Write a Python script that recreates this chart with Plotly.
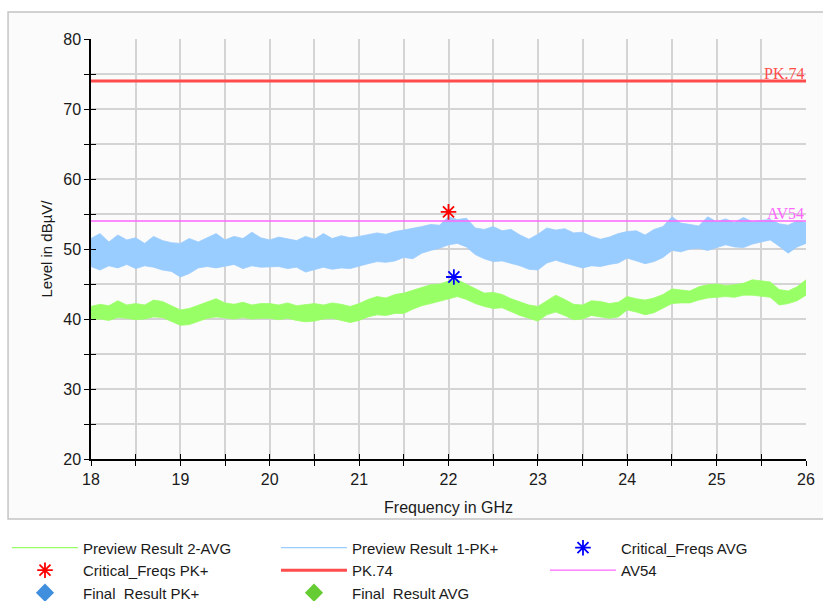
import plotly.graph_objects as go

# Frequency grid (GHz) for the measured envelopes
freq = [round(18.0 + 0.1 * i, 1) for i in range(81)]

# Preview Result 1-PK+ : upper / lower envelope of the sweep (dBµV)
pk_hi = [51.5, 52.2, 51.0, 52.0, 51.3, 51.6, 50.8, 51.8, 51.2, 50.9,
         50.8, 51.5, 51.0, 51.6, 52.2, 51.3, 51.8, 51.5, 52.4, 51.6,
         51.3, 51.7, 51.5, 51.2, 51.8, 51.4, 52.2, 51.5, 51.9, 51.6,
         51.8, 52.0, 52.3, 52.1, 52.5, 52.7, 52.9, 53.2, 53.5, 53.4,
         54.6, 54.2, 54.4, 53.0, 52.8, 53.2, 52.6, 52.8, 52.0, 51.4,
         52.1, 53.0, 52.7, 52.9, 52.3, 52.4, 51.8, 51.4, 51.7, 52.2,
         52.5, 52.6, 52.0, 52.8, 53.2, 54.6, 53.7, 53.5, 53.3, 54.6,
         53.9, 54.3, 53.8, 54.5, 53.9, 54.1, 54.2, 53.6, 53.4, 54.0,
         53.8]
pk_lo = [47.5, 47.0, 47.6, 47.3, 47.8, 47.2, 47.6, 47.4, 47.0, 46.8,
         46.0, 46.5, 47.3, 47.5, 47.3, 47.6, 47.8, 47.2, 47.6, 47.4,
         47.4, 47.5, 47.2, 47.4, 46.7, 47.0, 47.4, 47.1, 47.3, 47.2,
         47.6, 47.9, 48.2, 48.1, 48.3, 48.8, 48.6, 49.4, 49.8, 50.1,
         50.6, 50.8, 50.3, 49.2, 48.6, 48.2, 48.3, 48.0, 47.6, 47.1,
         47.0, 48.0, 48.4, 48.0, 47.7, 47.3, 47.6, 47.5, 47.8, 48.0,
         48.7, 48.3, 47.9, 48.2, 48.8, 49.8, 49.6, 50.0, 50.1, 49.8,
         50.2, 50.6, 50.3, 50.2, 50.7, 51.0, 51.3, 50.4, 49.4, 50.3,
         50.8]

# Preview Result 2-AVG : upper / lower envelope of the sweep (dBµV)
av_hi = [41.8, 42.1, 41.9, 42.6, 42.0, 42.2, 42.0, 42.7, 42.5, 41.9,
         41.3, 41.5, 42.0, 42.4, 42.9, 42.3, 42.1, 42.4, 42.0, 42.2,
         42.2, 42.0, 42.3, 41.9, 42.1, 42.2, 42.0, 42.3, 42.1, 41.8,
         42.2, 42.8, 43.2, 43.0, 43.5, 43.7, 44.1, 44.5, 44.9, 45.0,
         45.4, 45.6, 45.0, 44.3, 43.7, 43.8, 43.5, 42.9, 42.5, 42.0,
         41.8, 42.6, 43.4, 42.8, 42.1, 42.0, 42.6, 42.5, 42.2, 42.4,
         43.2, 42.9, 42.7, 43.0, 43.5, 44.3, 44.2, 44.0, 44.6, 44.9,
         45.0, 44.8, 44.9, 45.1, 45.6, 45.4, 45.3, 44.2, 44.0, 44.6,
         45.6]
av_lo = [39.9, 40.0, 39.8, 40.2, 40.1, 39.9, 40.0, 40.3, 40.2, 39.6,
         39.1, 39.2, 39.7, 40.1, 40.3, 40.1, 40.0, 40.2, 40.0, 40.1,
         40.1, 39.9, 40.1, 39.8, 39.6, 39.7, 40.0, 40.1, 39.8, 39.5,
         39.8, 40.3, 40.6, 40.5, 40.8, 40.8, 41.4, 41.9, 42.2, 42.5,
         42.9, 43.2, 42.8, 42.2, 41.8, 41.5, 41.6, 41.0, 40.5, 40.1,
         39.7, 40.6, 41.0, 40.5, 39.9, 40.0, 40.5, 40.3, 40.1, 40.3,
         41.3, 41.0, 40.6, 40.9, 41.6, 42.2, 42.3, 42.3, 42.7, 43.0,
         43.1, 43.2, 43.1, 43.4, 43.4, 43.3, 43.1, 42.0, 42.2, 42.6,
         43.4]

# Critical frequencies (GHz, dBµV)
crit_pk_f, crit_pk_v = [22.0], [55.3]
crit_av_f, crit_av_v = [22.06], [46.0]

# Limit lines
limit_pk = 74
limit_av = 54
f_span = [18, 26]

BLUE = "#99ccff"
GREEN = "#99ff66"
RED = "#ff4d4d"
MAGENTA = "#ff66ff"
FONT = "Liberation Sans, Arial, sans-serif"

fig = go.Figure()

# Measured bands
fig.add_trace(go.Scatter(x=freq, y=pk_lo, mode="lines", line=dict(width=0.8, color=BLUE),
                         showlegend=False, hoverinfo="skip"))
fig.add_trace(go.Scatter(x=freq, y=pk_hi, mode="lines", line=dict(width=0.8, color=BLUE),
                         fill="tonexty", fillcolor=BLUE, showlegend=False, hoverinfo="skip"))
fig.add_trace(go.Scatter(x=freq, y=av_lo, mode="lines", line=dict(width=0.8, color=GREEN),
                         showlegend=False, hoverinfo="skip"))
fig.add_trace(go.Scatter(x=freq, y=av_hi, mode="lines", line=dict(width=0.8, color=GREEN),
                         fill="tonexty", fillcolor=GREEN, showlegend=False, hoverinfo="skip"))

# Legend entries for the preview sweeps
fig.add_trace(go.Scatter(x=[None], y=[None], mode="lines", line=dict(width=1.2, color=GREEN),
                         name="Preview Result 2-AVG", legendrank=1))
fig.add_trace(go.Scatter(x=[None], y=[None], mode="lines", line=dict(width=1.2, color=BLUE),
                         name="Preview Result 1-PK+", legendrank=2))

# Limit lines
fig.add_trace(go.Scatter(x=f_span, y=[limit_pk, limit_pk], mode="lines",
                         line=dict(width=3, color=RED), name="PK.74", legendrank=5))
fig.add_trace(go.Scatter(x=f_span, y=[limit_av, limit_av], mode="lines",
                         line=dict(width=1.3, color=MAGENTA), name="AV54", legendrank=6))

# Critical frequency markers
fig.add_trace(go.Scatter(x=crit_av_f, y=crit_av_v, mode="markers",
                         marker=dict(symbol="asterisk-open", size=13, color="#0000ff",
                                     line=dict(width=1.8, color="#0000ff")),
                         name="Critical_Freqs AVG", legendrank=3))
fig.add_trace(go.Scatter(x=crit_pk_f, y=crit_pk_v, mode="markers",
                         marker=dict(symbol="asterisk-open", size=13, color="#ff0000",
                                     line=dict(width=1.8, color="#ff0000")),
                         name="Critical_Freqs PK+", legendrank=4))

# Final results (no points measured)
fig.add_trace(go.Scatter(x=[None], y=[None], mode="markers",
                         marker=dict(symbol="diamond", size=14, color="#3f8fde"),
                         name="Final  Result PK+", legendrank=7))
fig.add_trace(go.Scatter(x=[None], y=[None], mode="markers",
                         marker=dict(symbol="diamond", size=14, color="#66cc33"),
                         name="Final  Result AVG", legendrank=8))

# Limit labels
fig.add_annotation(x=26, y=limit_pk, xref="x", yref="y", text="PK.74", showarrow=False,
                   xanchor="right", yanchor="bottom", yshift=-3,
                   font=dict(family="Liberation Serif, serif", size=16, color=RED))
fig.add_annotation(x=26, y=limit_av, xref="x", yref="y", text="AV54", showarrow=False,
                   xanchor="right", yanchor="bottom", yshift=-3,
                   font=dict(family="Liberation Serif, serif", size=16, color=MAGENTA))

# Outer frame
fig.add_shape(type="rect", xref="paper", yref="paper", x0=-0.116, x1=1.03, y0=-0.143, y1=1.064,
              line=dict(color="#c4c4c4", width=1.5), fillcolor="#fbfbfb", layer="below")

GRID = "#d4d4d4"
ITEM_W = 66
COL_STEP = 269
fig.update_layout(
    width=823, height=601,
    margin=dict(l=91, r=17, t=39, b=142, autoexpand=False),
    paper_bgcolor="white", plot_bgcolor="white",
    font=dict(family=FONT, size=16, color="#1a1a1a"),
    xaxis=dict(range=[18, 26], dtick=1, tick0=18, ticks="outside", ticklen=5, tickwidth=1.3,
               tickcolor="black", showline=True, linecolor="black", linewidth=1.5,
               showgrid=True, gridcolor=GRID, gridwidth=1.5, zeroline=False, automargin=False,
               minor=dict(dtick=0.5, ticks="outside", ticklen=5, tickwidth=1.3, tickcolor="black",
                          showgrid=True, gridcolor=GRID, gridwidth=1.5),
               title=dict(text="Frequency in GHz", font=dict(size=16), standoff=15),
               tickfont=dict(size=16)),
    yaxis=dict(range=[20, 80], dtick=10, tick0=20, ticks="outside", ticklen=5, tickwidth=1.3,
               tickcolor="black", showline=True, linecolor="black", linewidth=1.5,
               showgrid=True, gridcolor=GRID, gridwidth=1.5, zeroline=False, automargin=False,
               minor=dict(dtick=5, ticks="outside", ticklen=5, tickwidth=1.3, tickcolor="black",
                          showgrid=True, gridcolor=GRID, gridwidth=1.5),
               title=dict(text="Level in dBµV/", font=dict(size=15), standoff=7),
               tickfont=dict(size=16)),
    # inside halves of the crossing ticks
    xaxis2=dict(range=[18, 26], overlaying="x", anchor="y", side="bottom", dtick=0.5, tick0=18,
                ticks="inside", ticklen=5, tickwidth=1.3, tickcolor="black", automargin=False,
                showticklabels=False, showgrid=False, zeroline=False, showline=False),
    yaxis2=dict(range=[20, 80], overlaying="y", anchor="x", side="left", dtick=5, tick0=20,
                ticks="inside", ticklen=5, tickwidth=1.3, tickcolor="black", automargin=False,
                showticklabels=False, showgrid=False, zeroline=False, showline=False),
    legend=dict(orientation="h", x=-0.1175, xanchor="left", y=-0.1725, yanchor="top",
                entrywidth=COL_STEP - ITEM_W - 15, entrywidthmode="pixels", itemwidth=ITEM_W,
                font=dict(size=15, family=FONT), bgcolor="rgba(0,0,0,0)",
                tracegroupgap=0, traceorder="normal"),
    showlegend=True,
)
# dummy trace so the overlay axes are drawn
fig.add_trace(go.Scatter(x=[None], y=[None], xaxis="x2", yaxis="y2", showlegend=False, hoverinfo="skip"))

fig.write_html("out.html")
